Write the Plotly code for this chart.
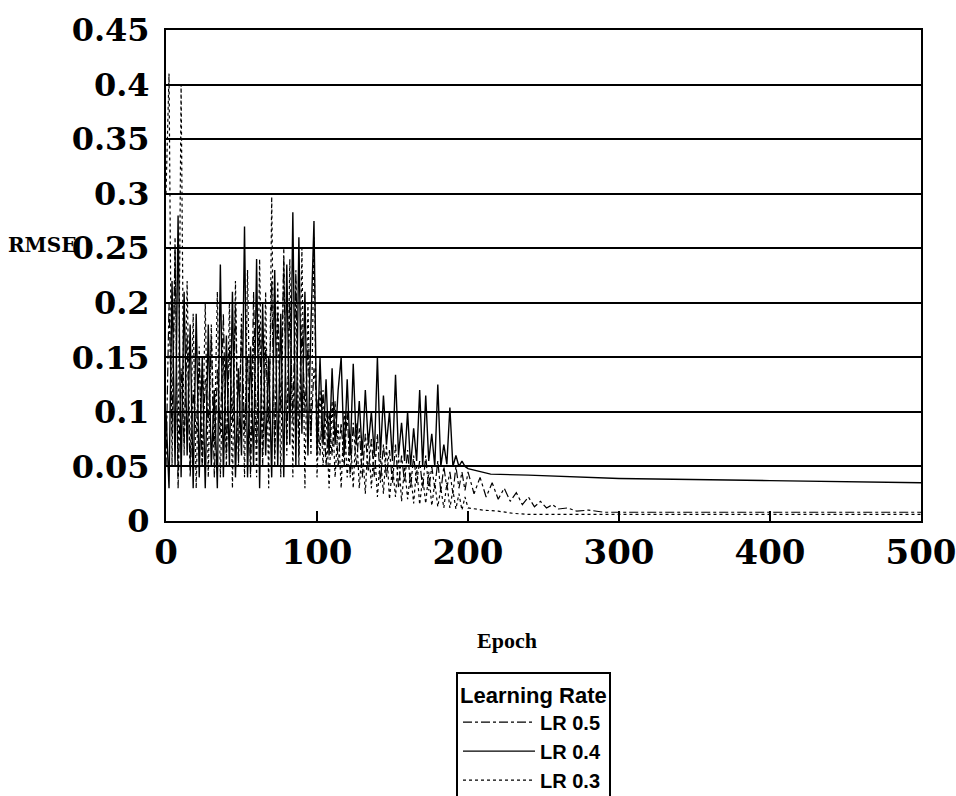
import plotly.graph_objects as go

# ---------------- data ----------------
noisy_epochs = list(range(0, 200, 2))

lr03_vals = [
    0.30, 0.41, 0.05, 0.26, 0.04, 0.40, 0.06, 0.22, 0.05, 0.19,
    0.03, 0.16, 0.05, 0.20, 0.04, 0.18, 0.07, 0.21, 0.04, 0.15,
    0.05, 0.20, 0.03, 0.22, 0.06, 0.19, 0.04, 0.23, 0.05, 0.17,
    0.04, 0.24, 0.06, 0.21, 0.03, 0.297, 0.05, 0.22, 0.04, 0.25,
    0.06, 0.24, 0.04, 0.22, 0.05, 0.25, 0.03, 0.20, 0.06, 0.26,
    0.04, 0.12, 0.05, 0.10, 0.03, 0.11, 0.04, 0.09, 0.03, 0.10,
    0.04, 0.08, 0.03, 0.09, 0.03, 0.07, 0.025, 0.08, 0.03, 0.07,
    0.022, 0.06, 0.025, 0.07, 0.02, 0.05, 0.022, 0.06, 0.018, 0.05,
    0.02, 0.045, 0.016, 0.05, 0.015, 0.04, 0.016, 0.045, 0.014, 0.035,
    0.013, 0.03, 0.012, 0.035, 0.012, 0.028, 0.011, 0.025, 0.010, 0.022,
]
lr03_tail_epochs = [200, 210, 220, 230, 240, 260, 300, 400, 500]
lr03_tail_vals = [0.012, 0.010, 0.009, 0.007, 0.006, 0.006, 0.006, 0.006, 0.006]

lr04_vals = [
    0.10, 0.03, 0.22, 0.05, 0.28, 0.04, 0.21, 0.06, 0.18, 0.03,
    0.19, 0.04, 0.15, 0.03, 0.18, 0.05, 0.12, 0.03, 0.235, 0.04,
    0.17, 0.05, 0.21, 0.04, 0.14, 0.06, 0.27, 0.04, 0.16, 0.05,
    0.24, 0.03, 0.20, 0.06, 0.15, 0.04, 0.23, 0.05, 0.19, 0.04,
    0.235, 0.07, 0.283, 0.05, 0.26, 0.08, 0.21, 0.06, 0.18, 0.275,
    0.06, 0.15, 0.07, 0.13, 0.06, 0.14, 0.07, 0.12, 0.15, 0.06,
    0.13, 0.06, 0.144, 0.07, 0.11, 0.06, 0.12, 0.07, 0.10, 0.06,
    0.15, 0.06, 0.115, 0.07, 0.10, 0.055, 0.134, 0.06, 0.09, 0.055,
    0.10, 0.05, 0.085, 0.055, 0.12, 0.05, 0.115, 0.055, 0.08, 0.05,
    0.125, 0.05, 0.07, 0.052, 0.104, 0.05, 0.06, 0.05, 0.055, 0.05,
]
lr04_tail_epochs = [200, 215, 240, 300, 400, 450, 500]
lr04_tail_vals = [0.048, 0.043, 0.042, 0.039, 0.037, 0.036, 0.035]

lr05_vals = [
    0.05, 0.20, 0.08, 0.25, 0.03, 0.14, 0.07, 0.17, 0.04, 0.12,
    0.08, 0.15, 0.05, 0.13, 0.09, 0.17, 0.04, 0.14, 0.08, 0.19,
    0.06, 0.16, 0.09, 0.20, 0.05, 0.18, 0.08, 0.15, 0.04, 0.21,
    0.07, 0.18, 0.05, 0.16, 0.09, 0.22, 0.06, 0.19, 0.10, 0.24,
    0.07, 0.20, 0.09, 0.23, 0.06, 0.18, 0.10, 0.16, 0.08, 0.14,
    0.11, 0.06, 0.12, 0.05, 0.10, 0.06, 0.11, 0.05, 0.09, 0.05,
    0.10, 0.04, 0.09, 0.05, 0.085, 0.04, 0.08, 0.045, 0.075, 0.04,
    0.08, 0.035, 0.07, 0.04, 0.065, 0.035, 0.07, 0.03, 0.06, 0.035,
    0.065, 0.03, 0.06, 0.035, 0.055, 0.03, 0.06, 0.028, 0.05, 0.03,
    0.055, 0.027, 0.05, 0.03, 0.045, 0.025, 0.05, 0.03, 0.045, 0.028,
]
lr05_tail_epochs = [200, 204, 208, 212, 216, 220, 224, 228, 232, 236, 240,
                    244, 248, 252, 256, 260, 266, 272, 280, 290, 300, 400, 500]
lr05_tail_vals = [0.045, 0.025, 0.04, 0.022, 0.035, 0.02, 0.03, 0.018, 0.026,
                  0.015, 0.022, 0.013, 0.018, 0.012, 0.015, 0.011, 0.012,
                  0.009, 0.010, 0.008, 0.008, 0.008, 0.008]

series_names = ["LR 0.5", "LR 0.4", "LR 0.3"]
x_ticks = [0, 100, 200, 300, 400, 500]

# ---------------- figure ----------------
fig = go.Figure()
fig.add_trace(go.Scatter(
    x=noisy_epochs + lr05_tail_epochs, y=lr05_vals + lr05_tail_vals,
    mode="lines", name=series_names[0],
    line=dict(color="black", width=1.2, dash="dashdot")))
fig.add_trace(go.Scatter(
    x=noisy_epochs + lr04_tail_epochs, y=lr04_vals + lr04_tail_vals,
    mode="lines", name=series_names[1],
    line=dict(color="black", width=1.4, dash="solid")))
fig.add_trace(go.Scatter(
    x=noisy_epochs + lr03_tail_epochs, y=lr03_vals + lr03_tail_vals,
    mode="lines", name=series_names[2],
    line=dict(color="black", width=1.2, dash="dot")))

serif = "DejaVu Serif"
L, R, T, B = 166, 35, 30, 275
plot_w = 956 - L - R
plot_h = 796 - T - B

fig.update_layout(
    width=956, height=796,
    margin=dict(l=L, r=R, t=T, b=B, autoexpand=False),
    paper_bgcolor="white", plot_bgcolor="white",
    showlegend=True,
    legend=dict(
        title=dict(text="Learning Rate",
                   font=dict(family="Liberation Sans", size=22, color="black", weight="bold")),
        font=dict(family="Liberation Sans", size=20, color="black", weight="bold"),
        bordercolor="black", borderwidth=2, bgcolor="white",
        x=(456 - L) / plot_w, xanchor="left",
        y=(796 - B - 672) / plot_h, yanchor="top",
        itemwidth=72, tracegroupgap=0,
    ),
    annotations=[
        dict(text="RMSE", x=(6 - L) / plot_w, y=(796 - B - 245) / plot_h,
             xref="paper", yref="paper",
             showarrow=False, xanchor="left", yanchor="middle",
             font=dict(family=serif, size=20, color="black", weight="bold")),
        dict(text="Epoch", x=(507 - L) / plot_w, y=(796 - B - 641) / plot_h,
             xref="paper", yref="paper",
             showarrow=False, xanchor="center", yanchor="middle",
             font=dict(family="Liberation Serif", size=22, color="black", weight="bold")),
    ],
)

fig.update_xaxes(
    range=[0, 500], tickvals=x_ticks, showgrid=False, zeroline=False,
    showline=True, linecolor="black", linewidth=2, mirror=True,
    ticks="inside", ticklen=10, tickwidth=2, tickcolor="black",
    ticklabeloverflow="allow",
    tickfont=dict(family=serif, size=34, color="black", weight="bold"),
)
fig.update_yaxes(
    range=[0, 0.45], dtick=0.05, tick0=0, showgrid=True, gridcolor="black", gridwidth=2,
    zeroline=False, showline=True, linecolor="black", linewidth=2, mirror=True,
    ticks="", ticklabelstandoff=8,
    tickfont=dict(family=serif, size=32, color="black", weight="bold"),
)

fig.write_html("out.html")
